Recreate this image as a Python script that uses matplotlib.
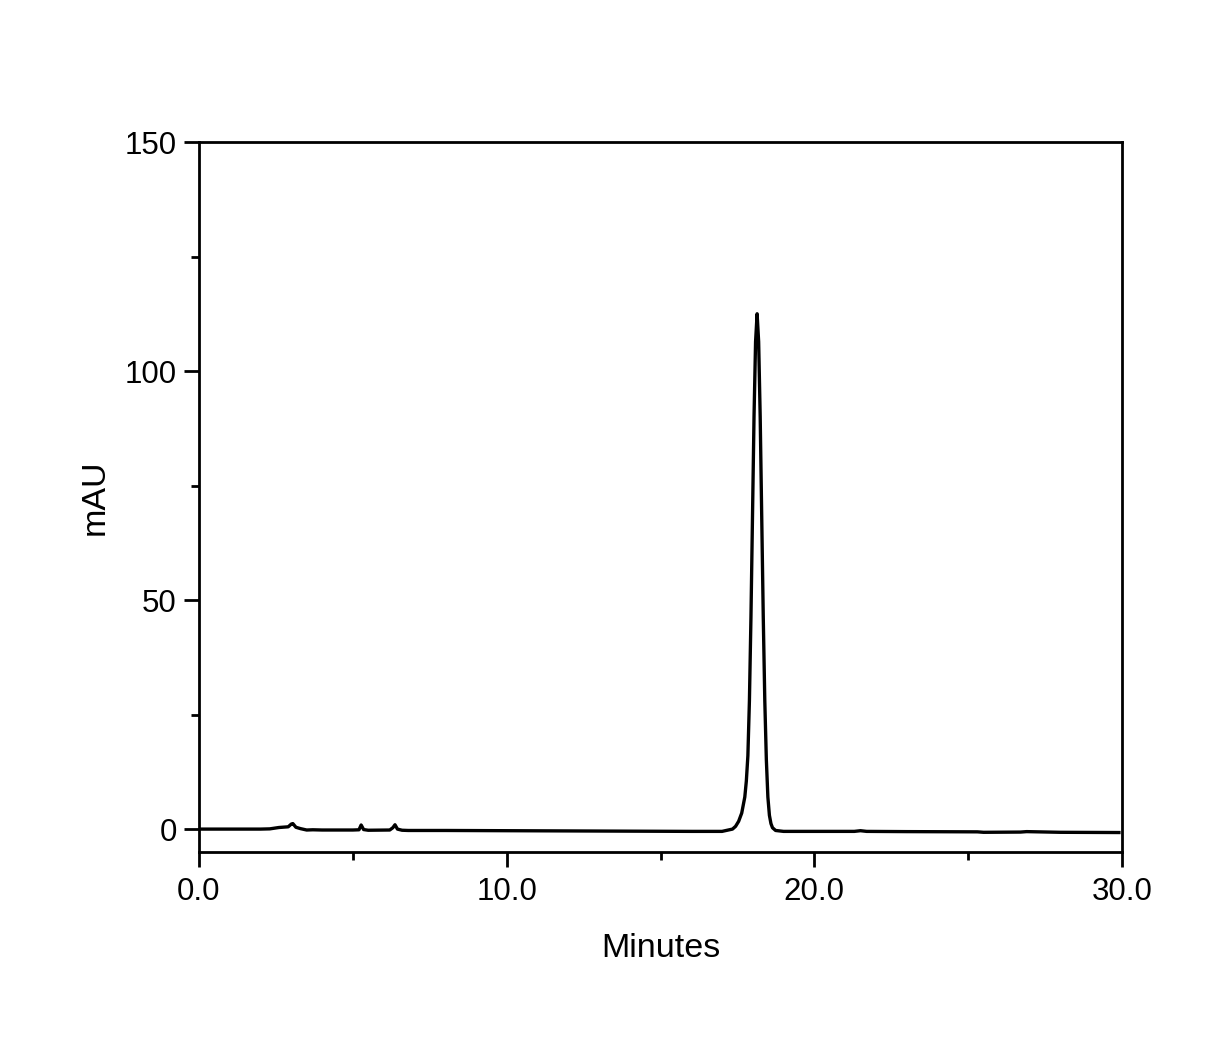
import matplotlib
matplotlib.use("Agg")
import matplotlib.pyplot as plt
from matplotlib.ticker import MultipleLocator, FormatStrFormatter

plt.rcParams['font.family'] = ['Liberation Sans', 'DejaVu Sans']

# Chromatogram (time in minutes, absorbance in mAU)
time_min = [0.0, 1.0, 2.0, 2.3, 2.6, 2.9, 3.0, 3.05, 3.15, 3.3, 3.5, 3.7, 4.0, 5.0,
            5.2, 5.27, 5.35, 5.5, 6.2, 6.3, 6.37, 6.45, 6.6, 6.8, 8.0, 10.0, 12.0,
            14.0, 16.0, 17.0, 17.34, 17.44, 17.54, 17.64, 17.74, 17.79, 17.84,
            17.89, 17.94, 17.99, 18.04, 18.09, 18.14, 18.19, 18.24, 18.29, 18.34,
            18.39, 18.44, 18.49, 18.54, 18.59, 18.64, 18.74, 19.0, 20.0, 21.3,
            21.5, 21.7, 23.0, 25.3, 25.5, 26.7, 26.9, 28.0, 29.9]
mau = [0.0, 0.0, 0.0, 0.05, 0.35, 0.5, 1.1, 1.2, 0.4, 0.1, -0.2, -0.15, -0.2, -0.2,
       -0.15, 0.9, -0.1, -0.25, -0.2, 0.3, 0.95, 0.0, -0.25, -0.3, -0.3, -0.35,
       -0.4, -0.45, -0.5, -0.5, 0.0, 0.6, 1.7, 3.5, 7.0, 10.5, 16.0, 28.0, 46.3,
       68.2, 90.1, 106.4, 112.5, 106.4, 90.1, 68.2, 46.3, 28.0, 15.2, 7.0, 3.0,
       1.2, 0.3, -0.3, -0.5, -0.5, -0.5, -0.35, -0.5, -0.55, -0.6, -0.7, -0.65,
       -0.55, -0.7, -0.75]

x_ticks = [0, 10, 20, 30]
y_ticks = [0, 50, 100, 150]

fig = plt.figure(figsize=(12.24, 10.41), dpi=100)
ax = fig.add_axes([199/1224, 1 - 852/1041, (1122-199)/1224, (852-142)/1041])

ax.plot(time_min, mau, color='black', lw=2.4, solid_joinstyle='round')

ax.set_xlim(0, 30)
ax.set_ylim(-5, 150)
ax.set_xticks(x_ticks)
ax.set_yticks(y_ticks)
ax.xaxis.set_major_formatter(FormatStrFormatter('%.1f'))
ax.xaxis.set_minor_locator(MultipleLocator(5))
ax.yaxis.set_minor_locator(MultipleLocator(25))

for s in ax.spines.values():
    s.set_linewidth(2)
ax.tick_params(which='major', direction='out', length=11, width=2,
               labelsize=22.5)
ax.tick_params(axis='x', which='major', pad=7)
ax.tick_params(axis='y', which='major', pad=5)
ax.tick_params(which='minor', direction='out', length=6, width=2)

ax.set_xlabel('Minutes', fontsize=24.5, labelpad=18.5)
ax.set_ylabel('mAU', fontsize=24.5, labelpad=10)

fig.savefig('out.png', dpi=100)
